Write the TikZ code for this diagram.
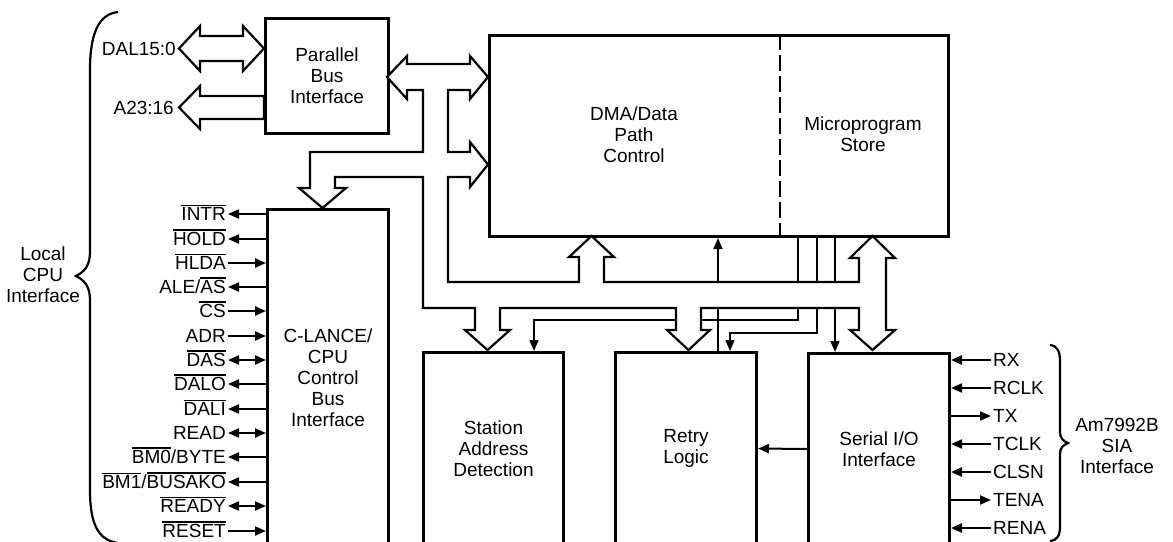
\documentclass[tikz,border=0pt]{standalone}
\usepackage{fontspec}
\setmainfont{Liberation Sans}
\usepackage{tikz}
\usetikzlibrary{arrows.meta,positioning,calc}
\newcommand\ovl[1]{\leavevmode\vbox{\hrule height 1.2pt\kern 1.6pt\hbox{#1}}}
\tikzset{
  blockbox/.style={
    rectangle, draw, line width=3pt, anchor=north west,
    inner sep=0pt, align=center,
    font=\fontsize{19}{21}\selectfont
  },
  blocktext/.style={align=center, font=\fontsize{19}{21}\selectfont},
  siglabel/.style={
    inner sep=2pt, text height=15pt, text depth=2pt,
    font=\fontsize{19}{21}\selectfont
  },
  sigleft/.style={siglabel, anchor=east},
  sigright/.style={siglabel, anchor=west},
  sigout/.style={line width=2pt, -{Triangle[length=11pt,width=9pt]}},
  sigboth/.style={line width=2pt,
    {Triangle[length=11pt,width=9pt]}-{Triangle[length=11pt,width=9pt]}},
  ctrlline/.style={line width=1.6pt, -{Triangle[length=11pt,width=9pt]}},
  widebus/.style={draw, fill=white, line width=2.2pt, line join=miter},
  divider/.style={line width=2pt, dash pattern=on 16pt off 5pt},
  bracket/.style={line width=2.2pt},
}

\begin{document}
\begin{tikzpicture}[x=1pt, y=-1pt]
  \useasboundingbox (0,0) rectangle (1173,541);
  \clip (0,0) rectangle (1173,541);

  % Blocks
  \node[blockbox, minimum width=123pt, minimum height=115pt] (pbi) at (264,17) {Parallel\\Bus\\Interface};
  \node[blockbox, minimum width=459pt, minimum height=201pt] (dma) at (488,34) {};
  \node[blocktext] (dmatext) at (634,134.5) {DMA/Data\\Path\\Control};
  \node[blocktext] (mstext) at (863,134.5) {Microprogram\\Store};
  \draw[divider] (780,34) -- (780,235);
  \node[blockbox, minimum width=121pt, minimum height=336pt] (clance) at (266,208) {C-LANCE/\\CPU\\Control\\Bus\\Interface};
  \node[blockbox, minimum width=140pt, minimum height=192pt] (sad) at (422,351) {Station\\Address\\Detection};
  \node[blockbox, minimum width=141pt, minimum height=192pt] (retry) at (614,351) {Retry\\Logic};
  \node[blockbox, minimum width=141pt, minimum height=191pt] (sio) at (807,352) {Serial I/O\\Interface};

  % Local CPU side
  \node[sigleft] (intr)  at (228,214) {\ovl{INTR}};
  \node[sigleft] (hold)  at (228,239) {\ovl{HOLD}};
  \node[sigleft] (hlda)  at (228,263) {\ovl{HLDA}};
  \node[sigleft] (aleas) at (228,287) {ALE/\ovl{AS}};
  \node[sigleft] (cs)    at (228,311) {\ovl{CS}};
  \node[sigleft] (adr)   at (228,336) {ADR};
  \node[sigleft] (das)   at (228,360) {\ovl{DAS}};
  \node[sigleft] (dalo)  at (228,384) {\ovl{DALO}};
  \node[sigleft] (dali)  at (228,409) {\ovl{DALI}};
  \node[sigleft] (read)  at (228,433) {READ};
  \node[sigleft] (bmz)   at (228,457) {\ovl{BM0}/BYTE};
  \node[sigleft] (bmo)   at (228,482) {\ovl{BM1}/\ovl{BUSAKO}};
  \node[sigleft] (ready) at (228,506) {\ovl{READY}};
  \node[sigleft] (reset) at (228,531) {\ovl{RESET}};

  \foreach \s in {intr,hold,aleas,dalo,dali,bmz,bmo}
    \draw[sigout] (clance.west |- \s) -- (\s.east);
  \foreach \s in {hlda,cs,adr,reset}
    \draw[sigout] (\s.east) -- (clance.west |- \s);
  \foreach \s in {das,read,ready}
    \draw[sigboth] (\s.east) -- (clance.west |- \s);

  \node[blocktext] (cpulabel) at (43,275) {Local\\CPU\\Interface};
  \draw[bracket] (118,12) .. controls (98,14) and (90,35) .. (90,70) -- (90,252)
    .. controls (90,266) and (84,272) .. (76,276) .. controls (84,280) and (90,286) .. (90,300)
    -- (90,490) .. controls (90,524) and (98,540) .. (118,543);

  % Am7992B side
  \node[sigright] (rx)   at (991,360) {RX};
  \node[sigright] (rclk) at (991,388) {RCLK};
  \node[sigright] (tx)   at (991,416) {TX};
  \node[sigright] (tclk) at (991,444) {TCLK};
  \node[sigright] (clsn) at (991,472) {CLSN};
  \node[sigright] (tena) at (991,500) {TENA};
  \node[sigright] (rena) at (991,528) {RENA};

  \foreach \s in {rx,rclk,tclk,clsn,rena}
    \draw[sigout] (\s.west) -- (sio.east |- \s);
  \foreach \s in {tx,tena}
    \draw[sigout] (sio.east |- \s) -- (\s.west);

  \node[blocktext] (sialabel) at (1117,446) {Am7992B\\SIA\\Interface};
  \draw[bracket] (1050,345) .. controls (1058,346) and (1060,352) .. (1060,362) -- (1060,432)
    .. controls (1060,438) and (1063,441) .. (1068,443) .. controls (1063,445) and (1060,448) .. (1060,454)
    -- (1060,526) .. controls (1060,535) and (1058,540) .. (1050,541);

  % Control lines
  \coordinate (xup) at (718,0);
  \coordinate (xm1) at (798,0);
  \coordinate (xm2) at (817,0);
  \coordinate (xm3) at (835,0);
  \coordinate (xsad) at (534,0);
  \coordinate (xret) at (730,0);
  \draw[ctrlline] (retry.north -| xup) -- (dma.south -| xup);
  \draw[ctrlline] (dma.south -| xm1) -- ++(0,82) -| (sad.north -| xsad);
  \draw[ctrlline] (dma.south -| xm2) -- ++(0,95) -| (retry.north -| xret);
  \draw[ctrlline] (dma.south -| xm3) -- (sio.north -| xm3);
  \draw[sigout] (sio.west) -- (retry.east);

  % Wide buses
  \draw[widebus] (179,48.5) -- (200,26) -- (200,36) -- (243,36) -- (243,26) -- (264,48.5)
    -- (243,71) -- (243,61) -- (200,61) -- (200,71) -- cycle;
  \draw[widebus] (179,107.5) -- (200,86) -- (200,96) -- (264,96) -- (264,119)
    -- (200,119) -- (200,129) -- cycle;
  \node[sigleft] (dal) at (178,49) {DAL15:0};
  \node[sigleft] (addr) at (176,108) {A23:16};

  \draw[widebus] (387,77) -- (407,56) -- (407,64) -- (470,64) -- (470,56) -- (488,77)
    -- (470,99) -- (470,90) -- (448,90) -- (448,152) -- (470,152) -- (470,142)
    -- (488,164.5) -- (470,187) -- (470,177) -- (448,177) -- (448,282)
    -- (579,282) -- (579,257) -- (569,257) -- (591.5,236) -- (614,257) -- (604,257)
    -- (604,282) -- (859,282) -- (859,258) -- (850,258) -- (872.5,236) -- (895,258)
    -- (886,258) -- (886,330) -- (895,330) -- (872.5,350) -- (850,330) -- (859,330)
    -- (859,308) -- (701,308) -- (701,330) -- (710,330) -- (688.5,350) -- (667,330)
    -- (676,330) -- (676,308) -- (500,308) -- (500,330) -- (510,330) -- (487.5,350)
    -- (465,330) -- (475,330) -- (475,308) -- (423,308) -- (423,177) -- (335,177)
    -- (335,188) -- (346,188) -- (322.5,208) -- (299,188) -- (310,188) -- (310,152)
    -- (423,152) -- (423,90) -- (407,90) -- (407,99) -- cycle;
\end{tikzpicture}
\end{document}
